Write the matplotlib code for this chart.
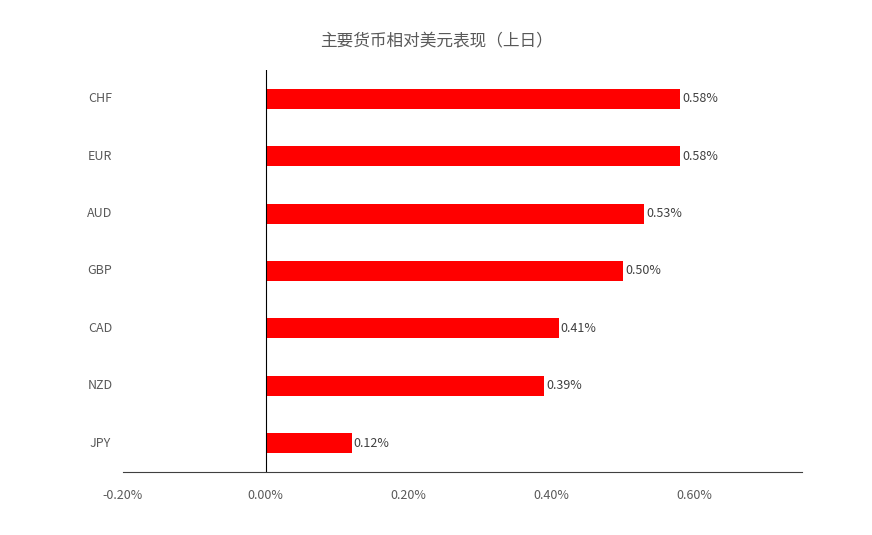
import matplotlib
matplotlib.use("Agg")
import matplotlib.pyplot as plt

plt.rcParams['font.family'] = ['Noto Sans CJK SC', 'DejaVu Sans']

currencies = ["CHF", "EUR", "AUD", "GBP", "CAD", "NZD", "JPY"]
changes = [0.58, 0.58, 0.53, 0.50, 0.41, 0.39, 0.12]
labels = ["0.58%", "0.58%", "0.53%", "0.50%", "0.41%", "0.39%", "0.12%"]
xticks = [-0.2, 0.0, 0.2, 0.4, 0.6]

fig = plt.figure(figsize=(8.72, 5.35), dpi=100)
ax = fig.add_axes([0.141, 0.118, 0.779, 0.751])
ypos = list(range(len(currencies)))
ax.barh(ypos, changes, height=0.35, color="#ff0000")
for y, v, lab in zip(ypos, changes, labels):
    ax.text(v + 0.003, y, lab, va="center", ha="left", fontsize=9, color="#404040")
    ax.text(-0.2 - 0.032, y, currencies[y], va="center", ha="center", fontsize=9, color="#595959")
ax.set_xlim(-0.2, 0.751)
ax.set_ylim(6.5, -0.5)
ax.axvline(0, color="black", linewidth=0.8)
ax.set_yticks([])
ax.set_xticks(xticks)
ax.set_xticklabels([f"{t:.2f}%" for t in xticks], fontsize=9, color="#595959")
ax.tick_params(axis="x", length=0, pad=12)
for s in ["top", "right", "left"]:
    ax.spines[s].set_visible(False)
ax.spines["bottom"].set_color("#404040")
ax.spines["bottom"].set_linewidth(0.8)
fig.text(0.5, 0.922, "主要货币相对美元表现（上日）", ha="center", va="center", fontsize=12, color="#595959")
fig.savefig("out.png", dpi=100)
